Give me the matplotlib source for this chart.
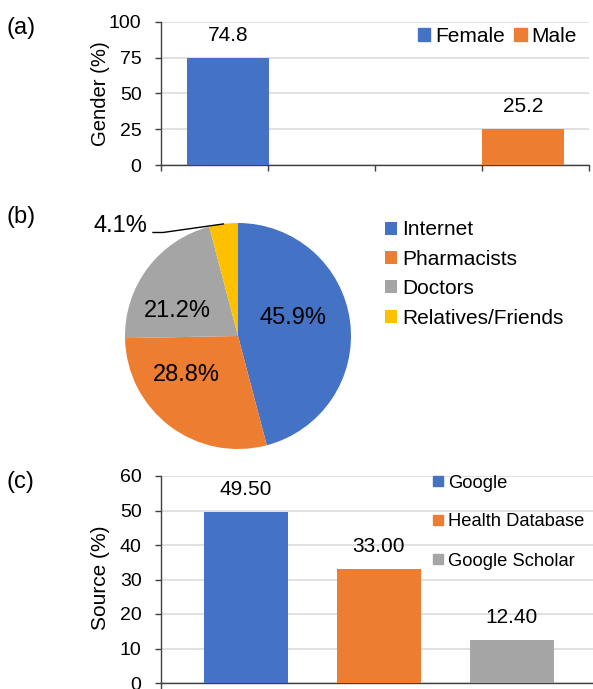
import matplotlib
matplotlib.use('Agg')
import numpy as np
import matplotlib.pyplot as plt
from matplotlib.patches import Patch

plt.rcParams['font.family'] = ['Liberation Sans', 'DejaVu Sans']

# ---------------- data ----------------
gender_labels = ['Female', 'Male']
gender_values = [74.8, 25.2]
gender_ticks = [0, 25, 50, 75, 100]

info_labels = ['Internet', 'Pharmacists', 'Doctors', 'Relatives/Friends']
info_values = [45.9, 28.8, 21.2, 4.1]

source_labels = ['Google', 'Health Database', 'Google Scholar']
source_values = [49.50, 33.00, 12.40]
source_ticks = [0, 10, 20, 30, 40, 50, 60]

# ---------------- style ----------------
BLUE = '#4472C4'
ORANGE = '#ED7D31'
GRAY = '#A5A5A5'
YELLOW = '#FFC000'
GRID = '#D9D9D9'
AXC = '#404040'

W, H = 593, 689
fig = plt.figure(figsize=(W / 100, H / 100), dpi=100)


def fx(px):
    return px / W


def fy(py):
    return 1 - py / H


def style_bar_axes(ax, ticks):
    ax.set_yticks(ticks)
    ax.yaxis.grid(True, color=GRID, lw=1.1)
    ax.set_axisbelow(True)
    for s in ['top', 'right']:
        ax.spines[s].set_visible(False)
    for s in ['left', 'bottom']:
        ax.spines[s].set_color(AXC)
        ax.spines[s].set_linewidth(1.0)
    ax.tick_params(axis='y', direction='out', length=4, width=1, color=AXC,
                   pad=10, labelsize=14)
    ax.tick_params(axis='x', direction='out', length=4, width=1, color=AXC,
                   labelbottom=False)


# ---------------- (a) gender ----------------
ax1 = fig.add_axes([fx(161), fy(165), (589 - 161) / W, (165 - 22) / H])
ax1.set_xlim(0, 4)
ax1.set_ylim(0, 100)
g_left = [0.243, 3.0]
g_w = 0.765
g_colors = [BLUE, ORANGE]
ax1.bar(g_left, gender_values, width=g_w, align='edge', color=g_colors, zorder=3)
for x, v in zip(g_left, gender_values):
    ax1.annotate(f'{v:.1f}', xy=(x + g_w / 2, v), xytext=(0, 16.5),
                 textcoords='offset points', ha='center', va='center', fontsize=15)
style_bar_axes(ax1, gender_ticks)
ax1.set_xticks([0, 1, 2, 3, 4])
ax1.legend([Patch(color=c) for c in g_colors], gender_labels, ncol=2,
           loc='center left', bbox_to_anchor=(fx(418), fy(36)),
           bbox_transform=fig.transFigure, frameon=False, fontsize=15,
           handlelength=0.58, handleheight=0.58, handletextpad=0.25,
           columnspacing=0.45, borderpad=0, borderaxespad=0)
fig.text(fx(101), fy(94), 'Gender (%)', rotation=90, ha='center', va='center',
         fontsize=14.6)
fig.text(fx(7), fy(28), '(a)', ha='left', va='center', fontsize=17)

# ---------------- (b) pie ----------------
R = 113
cx, cy = 238, 336
ax2 = fig.add_axes([fx(cx - R), fy(cy + R), 2 * R / W, 2 * R / H])
p_colors = [BLUE, ORANGE, GRAY, YELLOW]
wedges, _ = ax2.pie(info_values, colors=p_colors, startangle=90,
                    counterclock=False, wedgeprops=dict(linewidth=0))
ax2.set_xlim(-1, 1)
ax2.set_ylim(-1, 1)
ax2.set_aspect('equal')
label_pos = [(0.487, 0.159), (-0.46, -0.345), (-0.54, 0.221), (-1.04, 0.973)]
for (lx, ly), v in zip(label_pos, info_values):
    ax2.text(lx, ly, f'{v:.1f}%', ha='center', va='center', fontsize=17)
wy = wedges[3]
th = np.deg2rad((wy.theta1 + wy.theta2) / 2)
ax2.plot([-0.752, -0.664, np.cos(th)], [0.916, 0.916, np.sin(th)],
         color='black', lw=1, clip_on=False)
ax2.legend(wedges, info_labels, loc='center left',
           bbox_to_anchor=(fx(385), fy(274)), bbox_transform=fig.transFigure,
           frameon=False, fontsize=15, handlelength=0.58, handleheight=0.58,
           handletextpad=0.25, labelspacing=0.5, borderpad=0, borderaxespad=0)
fig.text(fx(7), fy(217), '(b)', ha='left', va='center', fontsize=17)

# ---------------- (c) source ----------------
ax3 = fig.add_axes([fx(161), fy(683), (600 - 161) / W, (683 - 476) / H])
ax3.set_xlim(-0.639, 2.662)
ax3.set_ylim(0, 60)
s_x = np.arange(len(source_values))
s_w = 0.632
s_colors = [BLUE, ORANGE, GRAY]
ax3.bar(s_x, source_values, width=s_w, color=s_colors, zorder=3)
for x, v in zip(s_x, source_values):
    ax3.annotate(f'{v:.2f}', xy=(x, v), xytext=(0, 16.5),
                 textcoords='offset points', ha='center', va='center', fontsize=15)
style_bar_axes(ax3, source_ticks)
ax3.set_xticks([-0.639])
ax3.legend([Patch(color=c) for c in s_colors], source_labels,
           loc='center left', bbox_to_anchor=(fx(433), fy(522)),
           bbox_transform=fig.transFigure, frameon=False, fontsize=13.2,
           handlelength=0.54, handleheight=0.54, handletextpad=0.27,
           labelspacing=1.2, borderpad=0, borderaxespad=0)
fig.text(fx(101), fy(578), 'Source (%)', rotation=90, ha='center', va='center',
         fontsize=15)
fig.text(fx(7), fy(482), '(c)', ha='left', va='center', fontsize=17)

fig.savefig('out.png', dpi=100)
